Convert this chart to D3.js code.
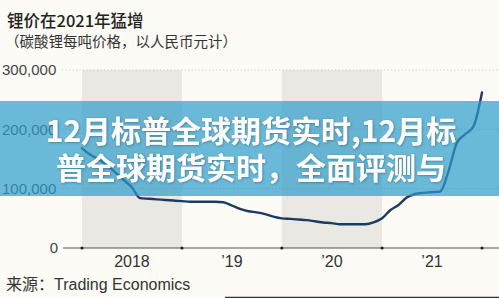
<!DOCTYPE html>
<html><head><meta charset="utf-8">
<script src="https://cdn.jsdelivr.net/npm/d3@7"></script>
<style>
html,body{margin:0;padding:0;background:#fcfbf5;}
svg{display:block;}
</style></head>
<body>
<svg id="chart" width="499" height="298"></svg>
<script>
const title = "锂价在2021年猛增";
const subtitle = "（碳酸锂每吨价格，以人民币元计）";
const source = "来源：Trading Economics";
const bannerLines = ["12月标普全球期货实时,12月标", "普全球期货实时，全面评测与"];
const yTicks = [0, 100000, 200000, 300000];
const yearLabels = ["2018", "’19", "’20", "’21"];
const years = [2018, 2019, 2020, 2021];
const shadedYears = [2018, 2020];
const months = [
 "2018-01","2018-02","2018-03","2018-04","2018-05","2018-06","2018-07","2018-08","2018-09","2018-10","2018-11","2018-12",
 "2019-01","2019-02","2019-03","2019-04","2019-05","2019-06","2019-07","2019-08","2019-09","2019-10","2019-11","2019-12",
 "2020-01","2020-02","2020-03","2020-04","2020-05","2020-06","2020-07","2020-08","2020-09","2020-10","2020-11","2020-12",
 "2021-01","2021-02","2021-03","2021-04","2021-05","2021-06","2021-07","2021-08","2021-09","2021-10","2021-11","2021-12","2022-01"];
const prices = [
 168000,157000,150000,140000,128000,115000,103000,84000,83000,82000,81000,80000,
 79000,78000,78000,78000,78000,77000,72000,66000,62000,60000,57000,53000,
 50000,49000,48000,47000,45000,43000,42000,40000,40000,40000,40000,43000,
 50000,64000,72000,85000,91000,93000,94000,95000,130000,177000,192000,205000,262000];

const svg = d3.select("#chart");
const W = 499, H = 298;
const parse = d3.timeParse("%Y-%m");
const x = d3.scaleTime().domain([new Date(2018,0,1), new Date(2022,0,1)]).range([82, 482]);
const y = d3.scaleLinear().domain([0, 300000]).range([248, 70]);

svg.append("rect").attr("width", W).attr("height", H).attr("fill", "#fcfbf5");

// shaded years
svg.selectAll("rect.band").data(shadedYears).enter().append("rect")
  .attr("class","band")
  .attr("x", d => x(new Date(d,0,1)))
  .attr("width", d => x(new Date(d+1,0,1)) - x(new Date(d,0,1)))
  .attr("y", y(300000)).attr("height", y(0) - y(300000))
  .attr("fill", "#e9e8e2");

// gridlines
svg.selectAll("line.grid").data(yTicks.filter(d => d > 0)).enter().append("line")
  .attr("x1", 62).attr("x2", W)
  .attr("y1", d => y(d)).attr("y2", d => y(d))
  .attr("stroke", "#c9c9c4").attr("stroke-width", 1.2).attr("stroke-dasharray", "1.2,2.3");

// y labels
svg.selectAll("text.ylab").data(yTicks).enter().append("text")
  .attr("x", d => d === 0 ? 58 : 2)
  .attr("text-anchor", d => d === 0 ? "end" : "start")
  .attr("y", d => y(d)).attr("dy", "0.36em")
  .attr("font-family", "Liberation Sans, Arial, sans-serif").attr("font-size", 15)
  .attr("fill", "#444")
  .text(d => d3.format(",")(d));

// x axis line
svg.append("line").attr("x1", 63).attr("x2", W).attr("y1", y(0)).attr("y2", y(0))
  .attr("stroke", "#555").attr("stroke-width", 1.2);
const tickYears = [2018, 2019, 2020, 2021, 2022];
svg.selectAll("circle.tick").data(tickYears).enter().append("circle")
  .attr("cx", d => x(new Date(d,0,1))).attr("cy", y(0)).attr("r", 1.6).attr("fill", "#222");
svg.selectAll("text.xlab").data(years).enter().append("text")
  .attr("x", (d) => (x(new Date(d,0,1)) + x(new Date(d+1,0,1))) / 2)
  .attr("y", 267).attr("text-anchor", "middle")
  .attr("font-family", "Liberation Sans, Arial, sans-serif").attr("font-size", 16)
  .attr("fill", "#333")
  .text((d, i) => yearLabels[i]);

// price line
const data = months.map((m, i) => ({date: parse(m), v: prices[i]}));
svg.append("path").datum(data)
  .attr("fill", "none").attr("stroke", "#1c3b63").attr("stroke-width", 2.4)
  .attr("stroke-linejoin", "round").attr("stroke-linecap", "round")
  .attr("d", d3.line().x(d => x(d.date)).y(d => y(d.v)).curve(d3.curveMonotoneX));

// title
svg.append("text").attr("x", 7).attr("y", 27)
  .attr("font-family", "Noto Sans CJK SC, sans-serif").attr("font-size", 16.5).attr("font-weight", 500)
  .attr("fill", "#222").text(title);
svg.append("text").attr("x", 5).attr("y", 47)
  .attr("font-family", "Noto Sans CJK SC, sans-serif").attr("font-size", 14.5)
  .attr("fill", "#333").text(subtitle);

// source
svg.append("text").attr("x", 6).attr("y", 290)
  .attr("font-family", "Liberation Sans, Noto Sans CJK SC, sans-serif").attr("font-size", 16)
  .attr("fill", "#333").text(source);
svg.append("line").attr("x1", 225).attr("x2", W).attr("y1", 297.5).attr("y2", 297.5)
  .attr("stroke", "#333").attr("stroke-width", 1.5);

// banner overlay
svg.append("rect").attr("x", 0).attr("y", 101).attr("width", W).attr("height", 95)
  .attr("fill", "rgba(46,157,204,0.70)");
const defs = svg.append("defs");
const f = defs.append("filter").attr("id", "sh").attr("x", "-5%").attr("y", "-20%").attr("width", "110%").attr("height", "140%");
f.append("feDropShadow").attr("dx", 0.8).attr("dy", 0.8).attr("stdDeviation", 0.8).attr("flood-color", "#1b4a66").attr("flood-opacity", 0.5);
svg.selectAll("text.banner").data(bannerLines).enter().append("text")
  .attr("x", 251).attr("y", (d, i) => 131 + i * 37).attr("dy", "0.36em")
  .attr("text-anchor", "middle")
  .attr("font-family", "Noto Sans CJK SC, sans-serif").attr("font-size", 30).attr("font-weight", 700)
  .attr("fill", "#ffffff").attr("filter", "url(#sh)")
  .text(d => d);
</script>
</body></html>
